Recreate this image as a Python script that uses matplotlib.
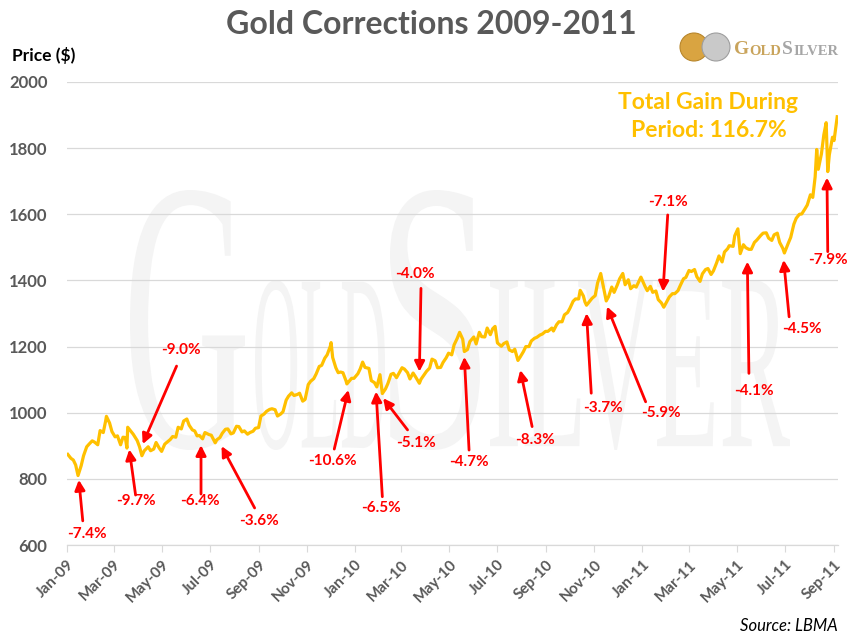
import numpy as np
import pandas as pd
import matplotlib
matplotlib.use("Agg")
import matplotlib.pyplot as plt
from matplotlib.textpath import TextPath
from matplotlib.font_manager import FontProperties
from matplotlib.patches import PathPatch, Circle
from matplotlib.transforms import Affine2D, IdentityTransform

# gold price (LBMA, USD/oz)
dates = [
    "2009-01-02", "2009-01-06", "2009-01-09", "2009-01-12", "2009-01-15", "2009-01-19", "2009-01-22",
    "2009-01-26", "2009-01-29", "2009-02-02", "2009-02-05", "2009-02-09", "2009-02-12", "2009-02-16",
    "2009-02-19", "2009-02-20", "2009-02-24", "2009-02-27", "2009-03-03", "2009-03-06", "2009-03-10",
    "2009-03-13", "2009-03-16", "2009-03-18", "2009-03-19", "2009-03-23", "2009-03-26", "2009-03-31",
    "2009-04-03", "2009-04-06", "2009-04-09", "2009-04-14", "2009-04-17", "2009-04-21", "2009-04-24",
    "2009-04-28", "2009-05-01", "2009-05-05", "2009-05-08", "2009-05-12", "2009-05-15", "2009-05-19",
    "2009-05-22", "2009-05-26", "2009-05-29", "2009-06-02", "2009-06-05", "2009-06-09", "2009-06-12",
    "2009-06-15", "2009-06-18", "2009-06-22", "2009-06-25", "2009-06-30", "2009-07-03", "2009-07-08",
    "2009-07-10", "2009-07-14", "2009-07-17", "2009-07-21", "2009-07-24", "2009-07-28", "2009-07-31",
    "2009-08-04", "2009-08-07", "2009-08-11", "2009-08-14", "2009-08-18", "2009-08-21", "2009-08-25",
    "2009-08-28", "2009-09-01", "2009-09-04", "2009-09-08", "2009-09-11", "2009-09-15", "2009-09-18",
    "2009-09-22", "2009-09-25", "2009-09-29", "2009-10-02", "2009-10-06", "2009-10-09", "2009-10-13",
    "2009-10-16", "2009-10-20", "2009-10-23", "2009-10-27", "2009-10-30", "2009-11-03", "2009-11-06",
    "2009-11-10", "2009-11-13", "2009-11-17", "2009-11-20", "2009-11-24", "2009-11-27", "2009-12-01",
    "2009-12-02", "2009-12-04", "2009-12-08", "2009-12-11", "2009-12-14", "2009-12-17", "2009-12-21",
    "2009-12-22", "2009-12-28", "2009-12-31",
    "2010-01-05", "2010-01-08", "2010-01-11", "2010-01-14", "2010-01-19", "2010-01-22", "2010-01-26",
    "2010-01-29", "2010-02-02", "2010-02-05", "2010-02-09", "2010-02-12", "2010-02-16", "2010-02-19",
    "2010-02-23", "2010-02-26", "2010-03-02", "2010-03-05", "2010-03-09", "2010-03-12", "2010-03-16",
    "2010-03-19", "2010-03-24", "2010-03-26", "2010-03-30", "2010-04-02", "2010-04-06", "2010-04-09",
    "2010-04-13", "2010-04-16", "2010-04-20", "2010-04-23", "2010-04-27", "2010-04-30", "2010-05-04",
    "2010-05-07", "2010-05-11", "2010-05-14", "2010-05-18", "2010-05-20", "2010-05-24", "2010-05-27",
    "2010-06-01", "2010-06-04", "2010-06-08", "2010-06-11", "2010-06-15", "2010-06-18", "2010-06-22",
    "2010-06-25", "2010-06-28", "2010-07-01", "2010-07-06", "2010-07-09", "2010-07-13", "2010-07-16",
    "2010-07-20", "2010-07-23", "2010-07-27", "2010-07-30", "2010-08-03", "2010-08-06", "2010-08-10",
    "2010-08-13", "2010-08-17", "2010-08-20", "2010-08-24", "2010-08-27", "2010-08-31", "2010-09-03",
    "2010-09-08", "2010-09-10", "2010-09-14", "2010-09-17", "2010-09-21", "2010-09-24", "2010-09-28",
    "2010-10-01", "2010-10-05", "2010-10-08", "2010-10-12", "2010-10-14", "2010-10-18", "2010-10-20",
    "2010-10-22", "2010-10-26", "2010-10-29", "2010-11-02", "2010-11-05", "2010-11-09", "2010-11-12",
    "2010-11-16", "2010-11-19", "2010-11-23", "2010-11-26", "2010-11-30", "2010-12-03", "2010-12-07",
    "2010-12-10", "2010-12-14", "2010-12-17", "2010-12-21", "2010-12-24", "2010-12-30",
    "2011-01-04", "2011-01-07", "2011-01-11", "2011-01-14", "2011-01-18", "2011-01-21", "2011-01-25",
    "2011-01-28", "2011-02-01", "2011-02-04", "2011-02-08", "2011-02-11", "2011-02-15", "2011-02-18",
    "2011-02-22", "2011-02-25", "2011-03-01", "2011-03-04", "2011-03-08", "2011-03-11", "2011-03-15",
    "2011-03-18", "2011-03-22", "2011-03-25", "2011-03-29", "2011-04-01", "2011-04-05", "2011-04-08",
    "2011-04-12", "2011-04-15", "2011-04-19", "2011-04-21", "2011-04-26", "2011-04-28", "2011-05-02",
    "2011-05-05", "2011-05-09", "2011-05-12", "2011-05-16", "2011-05-19", "2011-05-23", "2011-05-26",
    "2011-05-31", "2011-06-03", "2011-06-07", "2011-06-10", "2011-06-14", "2011-06-17", "2011-06-21",
    "2011-06-24", "2011-06-28", "2011-06-30", "2011-07-05", "2011-07-08", "2011-07-12", "2011-07-15",
    "2011-07-19", "2011-07-22", "2011-07-26", "2011-07-29", "2011-08-02", "2011-08-05", "2011-08-08",
    "2011-08-10", "2011-08-12", "2011-08-16", "2011-08-19", "2011-08-22", "2011-08-24", "2011-08-26",
    "2011-08-30", "2011-09-01", "2011-09-05",
]
prices = [
    874, 862, 857, 842, 810, 840, 870,
    897, 905, 915, 911, 903, 946, 940,
    975, 989, 969, 943, 927, 930, 903,
    926, 925, 893, 956, 944, 935, 916,
    897, 870, 885, 897, 885, 890, 910,
    893, 883, 905, 911, 919, 928, 926,
    956, 951, 975, 981, 962, 948, 945,
    930, 931, 921, 940, 934, 932, 909,
    918, 925, 938, 950, 951, 936, 939,
    959, 958, 942, 945, 935, 940, 944,
    953, 955, 990, 996, 1004, 1010, 1012,
    1009, 990, 996, 1003, 1038, 1050, 1060,
    1052, 1055, 1059, 1035, 1040, 1085, 1095,
    1103, 1117, 1140, 1143, 1165, 1175, 1201,
    1212, 1167, 1136, 1121, 1123, 1121, 1096,
    1087, 1104, 1104,
    1118, 1133, 1153, 1137, 1134, 1097, 1091,
    1078, 1115, 1058, 1072, 1088, 1116, 1119,
    1106, 1119, 1136, 1132, 1121, 1102, 1120,
    1109, 1089, 1101, 1115, 1125, 1135, 1162,
    1157, 1136, 1137, 1152, 1166, 1180, 1175,
    1205, 1225, 1243, 1222, 1185, 1191, 1215,
    1229, 1208, 1243, 1230, 1229, 1256, 1236,
    1254, 1261, 1211, 1201, 1209, 1214, 1190,
    1185, 1192, 1158, 1169, 1185, 1200, 1200,
    1217, 1225, 1228, 1235, 1238, 1246, 1246,
    1256, 1247, 1266, 1275, 1275, 1296, 1303,
    1316, 1337, 1344, 1344, 1370, 1353, 1335,
    1325, 1337, 1346, 1354, 1392, 1421, 1385,
    1338, 1351, 1380, 1364, 1386, 1405, 1421,
    1387, 1402, 1375, 1384, 1380, 1410,
    1383, 1369, 1382, 1364, 1368, 1342, 1332,
    1319, 1337, 1350, 1360, 1360, 1369, 1385,
    1405, 1409, 1430, 1427, 1433, 1411, 1397,
    1420, 1433, 1436, 1418, 1429, 1453, 1474,
    1456, 1486, 1496, 1505, 1503, 1535, 1556,
    1481, 1508, 1499, 1494, 1494, 1515, 1522,
    1536, 1543, 1544, 1528, 1521, 1538, 1543,
    1515, 1497, 1483, 1513, 1530, 1570, 1588,
    1600, 1601, 1616, 1628, 1659, 1651, 1713,
    1796, 1736, 1783, 1840, 1877, 1729, 1780,
    1833, 1823, 1895,
]

# corrections: label, arrow tip (date, price), arrow tail (date, price), text (date, price)
callouts = [
    ("-7.4%", "2009-01-16", 797, "2009-01-21", 673, "2009-01-26", 633),
    ("-9.7%", "2009-03-21", 889, "2009-03-29", 751, "2009-03-30", 733),
    ("-9.0%", "2009-04-07", 905, "2009-05-20", 1141, "2009-05-25", 1190),
    ("-6.4%", "2009-06-20", 902, "2009-06-20", 754, "2009-06-19", 733),
    ("-3.6%", "2009-07-16", 899, "2009-08-27", 712, "2009-09-01", 673),
    ("-10.6%", "2009-12-24", 1069, "2009-12-06", 890, "2009-12-04", 855),
    ("-6.5%", "2010-01-28", 1064, "2010-02-05", 746, "2010-02-03", 711),
    ("-5.1%", "2010-02-06", 1044, "2010-03-09", 948, "2010-03-20", 909),
    ("-4.0%", "2010-03-24", 1124, "2010-03-26", 1376, "2010-03-18", 1419),
    ("-4.7%", "2010-05-20", 1169, "2010-05-26", 887, "2010-05-26", 852),
    ("-8.3%", "2010-07-30", 1129, "2010-08-14", 958, "2010-08-18", 918),
    ("-3.7%", "2010-10-22", 1301, "2010-10-28", 1059, "2010-11-12", 1015),
    ("-5.9%", "2010-11-17", 1321, "2011-01-05", 1033, "2011-01-24", 998),
    ("-7.1%", "2011-01-27", 1366, "2011-02-02", 1598, "2011-02-02", 1638),
    ("-4.1%", "2011-05-14", 1457, "2011-05-16", 1119, "2011-05-22", 1067),
    ("-4.5%", "2011-06-29", 1462, "2011-07-06", 1290, "2011-07-22", 1252),
    ("-7.9%", "2011-08-23", 1711, "2011-08-24", 1487, "2011-08-24", 1462),
]

title = "Gold Corrections 2009-2011"
gain_text = "Total Gain During\nPeriod: 116.7%"

FONT = "Lato"
GOLD = "#FFC000"
RED = "#FF0000"
GREY = "#595959"
GRID = "#D9D9D9"


def stretched(ax, s, x0, y0, x1, y1, color):
    # draw a text path scaled into a pixel box (top-left origin)
    tp = TextPath((0, 0), s, size=100, prop=FontProperties(family="Liberation Serif"))
    ext = tp.get_extents()
    sx = (x1 - x0) / ext.width
    sy = (y1 - y0) / ext.height
    tr = Affine2D().translate(-ext.x0, -ext.y0).scale(sx, sy).translate(x0, 639 - y1)
    ax.add_patch(PathPatch(tr.transform_path(tp), transform=IdentityTransform(),
                           color=color, lw=0, zorder=0))


def main():
    x = pd.to_datetime(dates)
    y = np.array(prices)

    fig = plt.figure(figsize=(8.61, 6.39), dpi=100)
    ax = fig.add_axes([67 / 861, 1 - 545 / 639, (838 - 67) / 861, (545 - 82) / 639])

    # faint watermark
    wm = "#F4F4F4"
    stretched(ax, "G", 130, 190, 245, 450, wm)
    stretched(ax, "OLD", 255, 280, 385, 450, wm)
    stretched(ax, "S", 390, 190, 480, 450, wm)
    stretched(ax, "ILVER", 490, 280, 790, 450, wm)

    ax.plot(x, y, color=GOLD, lw=2.3, zorder=3)

    ax.set_ylim(600, 2000)
    ax.set_yticks(np.arange(600, 2001, 200))
    ax.set_xlim(pd.Timestamp("2009-01-01"), pd.Timestamp("2011-09-06"))
    ticks = pd.date_range("2009-01-01", "2011-09-01", freq="2MS")
    ax.set_xticks(ticks)
    ax.set_xticklabels([t.strftime("%b-%y") for t in ticks], rotation=45, ha="right",
                       rotation_mode="anchor", fontfamily=FONT, fontweight="bold",
                       fontsize=11, color=GREY)
    for lab in ax.get_yticklabels():
        lab.set_fontfamily(FONT)
        lab.set_fontweight("bold")
        lab.set_fontsize(12)
        lab.set_color(GREY)
    ax.tick_params(axis="y", length=0, pad=14)
    ax.tick_params(axis="x", length=5, color=GRID, pad=4)
    ax.grid(axis="y", color=GRID, lw=0.9, zorder=1)
    ax.set_axisbelow(True)
    for s in ["left", "right", "top"]:
        ax.spines[s].set_visible(False)
    ax.spines["bottom"].set_color(GRID)
    ax.spines["bottom"].set_linewidth(0.9)

    for lab, td, tp, ld, lp, xd, xp in callouts:
        ax.annotate("", xy=(pd.Timestamp(td), tp), xytext=(pd.Timestamp(ld), lp),
                    arrowprops=dict(arrowstyle="-|>", color=RED, lw=2.0,
                                    mutation_scale=15, shrinkA=0, shrinkB=0),
                    zorder=4)
        ax.text(pd.Timestamp(xd), xp, lab, color=RED, fontfamily=FONT,
                fontweight="bold", fontsize=11, ha="center", va="center", zorder=5)

    ax.text(0.832, 0.925, gain_text, transform=ax.transAxes, color=GOLD,
            fontfamily=FONT, fontweight="bold", fontsize=16.5, ha="center",
            va="center", linespacing=1.4, zorder=5)

    fig.text(0.501, 0.962, title, ha="center", va="center", fontfamily=FONT,
             fontweight="bold", fontsize=23, color=GREY)
    fig.text(12 / 861, 1 - 56 / 639, "Price ($)", ha="left", va="center",
             fontfamily=FONT, fontweight="bold", fontsize=12.5, color="black")
    fig.text(838 / 861, 1 - 626 / 639, "Source: LBMA", ha="right", va="center",
             fontfamily=FONT, fontstyle="italic", fontsize=12, color="black")

    # logo
    fig.add_artist(Circle((694, 639 - 47), 14, transform=IdentityTransform(),
                          facecolor="#D9A441", edgecolor="#B8862B", lw=0.8))
    fig.add_artist(Circle((716, 639 - 47), 14, transform=IdentityTransform(),
                          facecolor="#C9C9C9", edgecolor="#9E9E9E", lw=0.8))
    t1 = fig.text(734 / 861, 1 - 54 / 639, "G", fontfamily="Liberation Serif",
                  fontweight="bold", fontsize=14, color="#C9A45C", va="baseline", ha="left")
    t2 = ax.annotate("OLD", xy=(1, 0), xycoords=t1, fontfamily="Liberation Serif",
                     fontweight="bold", fontsize=10.5, color="#C9A45C", va="bottom", ha="left")
    t3 = ax.annotate("S", xy=(1, 0), xycoords=t2, fontfamily="Liberation Serif",
                     fontweight="bold", fontsize=14, color="#A6A6A6", va="bottom", ha="left",
                     xytext=(1, 0), textcoords="offset points")
    ax.annotate("ILVER", xy=(1, 0), xycoords=t3, fontfamily="Liberation Serif",
                fontweight="bold", fontsize=10.5, color="#A6A6A6", va="bottom", ha="left")

    fig.savefig("out.png", dpi=100)
    plt.close()


if __name__ == "__main__":
    main()
